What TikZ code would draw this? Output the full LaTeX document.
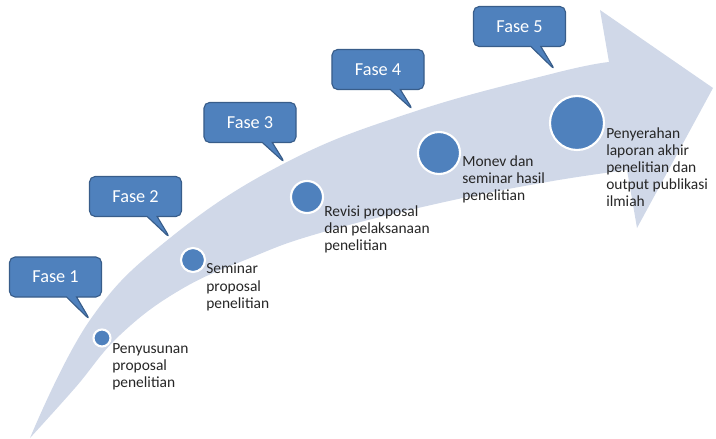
\documentclass[tikz,border=0pt]{standalone}
\usepackage{fontspec}
\setmainfont{Carlito}
\usepackage{xcolor}
\usepackage{tikz}
\usetikzlibrary{shapes.callouts}

\definecolor{bandblue}{RGB}{208,216,232}
\definecolor{fasefill}{RGB}{79,129,189}
\definecolor{faseline}{RGB}{56,93,138}

\begin{document}
\begin{tikzpicture}[
    x=0.025cm, y=-0.025cm, % pixel grid, y pointing down
    fase/.style={rectangle callout, draw=faseline, fill=fasefill, line width=0.8pt, rounded corners=4pt, text=white, font=\fontsize{13}{15}\selectfont, minimum width=2.3cm, minimum height=1cm}, % phase callouts
    dot/.style={circle, draw=white, fill=fasefill, line width=1.5pt, inner sep=0pt}, % milestones
    desc/.style={anchor=north west, align=left, inner sep=0pt, text=black!85, font=\fontsize{11}{12.2}\selectfont}
]
\useasboundingbox (0,0) rectangle (716,439);

% Big curved arrow
\fill[bandblue] plot[smooth, tension=0.7] coordinates {(30,438) (90,320) (170,238) (285,163) (413,112) (555,73) (609,62)}
    -- (600,10) -- (713,88) -- (637,228) -- (627,170)
    -- plot[smooth, tension=0.7] coordinates {(627,170) (547,182) (440,203) (320,233) (250,258) (180,290) (120,335) (75,388) (30,438)}
    -- cycle;

% Milestones
\node[dot, minimum size=0.425cm] (c1) at (102,338) {};
\node[dot, minimum size=0.6cm] (c2) at (193,260) {};
\node[dot, minimum size=0.8cm] (c3) at (307,197) {};
\node[dot, minimum size=1.05cm] (c4) at (439,153) {};
\node[dot, minimum size=1.35cm] (c5) at (577,123) {};

% Descriptions
\node[desc] (t1) at (112,343) {Penyusunan\\proposal\\penelitian};
\node[desc] (t2) at (206,263) {Seminar\\proposal\\penelitian};
\node[desc] (t3) at (324,205) {Revisi proposal\\dan pelaksanaan\\penelitian};
\node[desc] (t4) at (462,155) {Monev dan\\seminar hasil\\penelitian};
\node[desc] (t5) at (606,127) {Penyerahan\\laporan akhir\\penelitian dan\\output publikasi\\ilmiah};

% Phases
\node[fase, callout absolute pointer={(90,320)}] (f1) at (55.5,277) {Fase 1};
\node[fase, callout absolute pointer={(170,238)}] (f2) at (135.5,196.5) {Fase 2};
\node[fase, callout absolute pointer={(285,163)}] (f3) at (250,122.5) {Fase 3};
\node[fase, callout absolute pointer={(413,110)}] (f4) at (378,69.5) {Fase 4};
\node[fase, callout absolute pointer={(555,70)}] (f5) at (519.5,26.5) {Fase 5};

\end{tikzpicture}
\end{document}
